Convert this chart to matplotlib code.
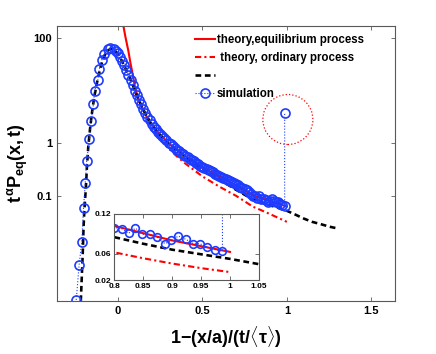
import numpy as np
import matplotlib
matplotlib.use("Agg")
import matplotlib.pyplot as plt
from matplotlib import transforms
from matplotlib.patches import Circle

plt.rcParams["font.family"] = ["Liberation Sans", "DejaVu Sans"]
plt.rcParams["font.weight"] = "bold"
plt.rcParams["mathtext.fontset"] = "custom"
plt.rcParams["mathtext.rm"] = "Liberation Sans:bold"
plt.rcParams["mathtext.it"] = "Liberation Sans:bold"
plt.rcParams["mathtext.bf"] = "Liberation Sans:bold"

# ---------------- data ----------------
# simulation (rising flank, individual circles)
sim_x_rise = [-0.246, -0.229, -0.213, -0.203, -0.193, -0.184, -0.168, -0.158,
              -0.144, -0.138, -0.118, -0.109, -0.0945, -0.079, -0.059, -0.044]
sim_y_rise = [0.00105, 0.0049, 0.0135, 0.0575, 0.174, 0.468, 1.21, 2.70,
              5.6, 9.8, 16.3, 26.1, 38.8, 50.5, 61.0, 64.6]

# simulation (decaying part, dense circles)
sim_x_decay = [-0.025, -0.0125, 0.0, 0.0125, 0.025, 0.0375, 0.05, 0.0625,
               0.075, 0.0875, 0.1, 0.1125, 0.125, 0.1375, 0.15, 0.1625,
               0.175, 0.1875, 0.2, 0.2125, 0.225, 0.2375, 0.25, 0.2625,
               0.275, 0.2875, 0.3, 0.3125, 0.325, 0.3375, 0.35, 0.3625,
               0.375, 0.3875, 0.4, 0.4125, 0.425, 0.4375, 0.45, 0.4625,
               0.475, 0.4875, 0.5, 0.5125, 0.525, 0.5375, 0.55, 0.5625,
               0.575, 0.5875, 0.6, 0.6125, 0.625, 0.6375, 0.65, 0.6625,
               0.675, 0.6875, 0.7, 0.7125, 0.725, 0.7375, 0.75, 0.7625,
               0.775, 0.7875]
sim_y_decay = [63.1, 57.5, 51.3, 43.7, 36.3, 30.2, 24.5, 20.0,
               15.8, 12.6, 10.0, 8.2, 6.7, 5.5, 4.55, 3.8,
               3.2, 2.72, 2.35, 2.06, 1.84, 1.64, 1.49, 1.36,
               1.24, 1.13, 1.03, 0.95, 0.875, 0.815, 0.76, 0.71,
               0.665, 0.62, 0.58, 0.545, 0.51, 0.475, 0.45, 0.42,
               0.40, 0.375, 0.355, 0.337, 0.322, 0.305, 0.292, 0.278,
               0.266, 0.253, 0.242, 0.231, 0.221, 0.211, 0.202, 0.192,
               0.184, 0.175, 0.167, 0.158, 0.150, 0.143, 0.136, 0.127,
               0.119, 0.108]

# simulation (tail) + the stray last point
sim_x_tail = [0.800, 0.813, 0.825, 0.837, 0.849, 0.862, 0.874, 0.888,
              0.899, 0.911, 0.924, 0.937, 0.948, 0.961, 0.974, 0.987, 0.987]
sim_y_tail = [0.0995, 0.098, 0.0908, 0.0985, 0.089, 0.089, 0.085, 0.075,
              0.080, 0.0866, 0.0815, 0.075, 0.075, 0.070, 0.066, 0.0636, 3.7]

# theory, equilibrium process
eq_x = [0.03, 0.033, 0.045, 0.0626, 0.075, 0.092, 0.102, 0.115, 0.13, 0.15,
        0.175, 0.2, 0.25, 0.3, 0.35, 0.4, 0.5, 0.6, 0.7, 0.8, 0.9, 1.0]
eq_y = [220, 170, 105, 56.5, 33, 17.6, 11.4, 8.0, 5.9, 4.3,
        3.0, 2.25, 1.45, 1.0, 0.75, 0.57, 0.345, 0.235, 0.158, 0.102, 0.080, 0.0626]

# theory, ordinary process
ord_x = [0.1, 0.15, 0.2, 0.25, 0.3, 0.35, 0.4, 0.5, 0.6, 0.7, 0.8, 0.85, 0.9, 0.95, 1.0]
ord_y = [9.5, 4.1, 2.05, 1.25, 0.8, 0.56, 0.41, 0.235, 0.15, 0.1, 0.062, 0.053, 0.045, 0.038, 0.032]

# black dashed curve
bk_x = [-0.219, -0.213, -0.207, -0.203, -0.197, -0.189, -0.183, -0.175, -0.165, -0.155,
        -0.14, -0.12, -0.1, -0.08, -0.06, -0.04, -0.02, 0.0, 0.02, 0.04,
        0.06, 0.08, 0.1, 0.125, 0.15, 0.2, 0.25, 0.3, 0.4, 0.5,
        0.6, 0.7, 0.75, 0.8, 0.85, 0.9, 0.95, 1.0, 1.05, 1.1,
        1.15, 1.2, 1.25, 1.3]
bk_y = [0.001, 0.003, 0.009, 0.025, 0.06, 0.145, 0.35, 0.85, 1.8, 3.4,
        7.5, 16, 30, 46, 58, 63, 60, 50, 39, 29,
        21, 15, 10.3, 6.6, 4.4, 2.25, 1.42, 0.98, 0.54, 0.32,
        0.205, 0.13, 0.105, 0.085, 0.075, 0.066, 0.059, 0.052, 0.044, 0.037,
        0.032, 0.029, 0.026, 0.024]

# highlighted outlier (dotted red ring)
ring_x, ring_y = 1.006, 2.83

sim_x = sim_x_rise + sim_x_decay + sim_x_tail
sim_y = sim_y_rise + sim_y_decay + sim_y_tail

BLUE = "#1e3cff"
RED = "#ff0000"
GRAY = "0.35"


def draw_curves(ax, ms, lw):
    h_eq, = ax.plot(eq_x, eq_y, color=RED, lw=lw)
    h_ord, = ax.plot(ord_x, ord_y, color=RED, lw=lw, dashes=(3, 1.5, 1, 1.5))
    h_bk, = ax.plot(bk_x, bk_y, color="k", lw=lw * 1.25, dashes=(2.2, 1.4))
    h_sim, = ax.plot(sim_x, sim_y, color=BLUE, lw=0.8, ls=":", marker="o",
                     ms=ms, mfc="none", mec=BLUE, mew=1.2)
    return h_eq, h_ord, h_bk, h_sim


def style_box(ax, size):
    for s in ax.spines.values():
        s.set_color(GRAY)
        s.set_linewidth(0.8)
    ax.tick_params(which="both", direction="in", top=True, right=True,
                   length=3, width=0.6, colors=GRAY, labelcolor="k",
                   labelsize=size)
    ax.minorticks_off()


fig = plt.figure(figsize=(4.36, 3.54), dpi=100)
ax = fig.add_axes([0.1307, 0.1497, 0.7753, 0.7769])

h_eq, h_ord, h_bk, h_sim = draw_curves(ax, ms=6.5, lw=1.5)

ax.set_yscale("log")
ax.set_xlim(-0.36, 1.64)
ax.set_ylim(1e-3, 170)
ax.set_xticks([0, 0.5, 1, 1.5])
ax.set_xticklabels(["0", "0.5", "1", "1.5"])
ax.set_yticks([0.1, 1, 100])
ax.set_yticklabels(["0.1", "1", "100"])
style_box(ax, 8)

# dotted ring around the stray point
ring_tr = fig.dpi_scale_trans + transforms.ScaledTranslation(ring_x, ring_y, ax.transData)
ax.add_patch(Circle((0, 0), 0.25, transform=ring_tr, fill=False,
                    ec=RED, ls=":", lw=0.9, clip_on=False))

ax.set_xlabel(r"$1\mathrm{-}(x/a)/(t/\langle\tau\rangle)$", fontsize=13)
ax.xaxis.set_label_coords(0.5, -0.085)
ax.set_ylabel(r"$t^{\alpha}P_{eq}(x,t)$", fontsize=13)
ax.yaxis.set_label_coords(-0.08, 0.5)

ax.legend([h_eq, h_ord, h_bk, h_sim],
          ["theory,equilibrium process", " theory, ordinary process", "", "simulation"],
          loc="upper left", bbox_to_anchor=(0.385, 1.0), frameon=False,
          fontsize=8.3, handlelength=1.75, handletextpad=0.1, labelspacing=0.52,
          borderaxespad=0.3)

# inset zoom of the tail
axin = fig.add_axes([0.2615, 0.209, 0.3325, 0.1865])
draw_curves(axin, ms=5.5, lw=1.5)
axin.set_xlim(0.8, 1.05)
axin.set_ylim(0.02, 0.12)
axin.set_xticks([0.8, 0.85, 0.9, 0.95, 1, 1.05])
axin.set_xticklabels(["0.8", "0.85", "0.9", "0.95", "1", "1.05"])
axin.set_yticks([0.02, 0.06, 0.12])
axin.set_yticklabels(["0.02", "0.06", "0.12"])
style_box(axin, 6)
axin.tick_params(pad=2)

fig.savefig("out.png", dpi=100)
